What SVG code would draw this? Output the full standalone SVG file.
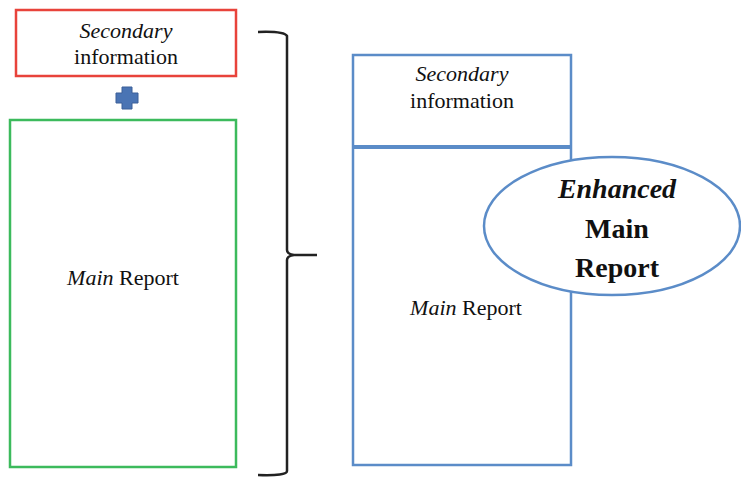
<svg xmlns="http://www.w3.org/2000/svg" width="741" height="477" viewBox="0 0 741 477">
  <style>
    .t { font-family: 'Liberation Serif', 'DejaVu Serif', serif; fill: #111; text-anchor: middle; }
    .s { font-size: 22px; }
    .b { font-size: 28px; font-weight: bold; }
    .i { font-style: italic; }
    .box { fill: #fff; stroke-width: 2.5; }
  </style>
  <rect width="741" height="477" fill="#fff"/>

  <!-- left: secondary information -->
  <g id="secondary-left">
    <rect class="box" x="16" y="10" width="220" height="66" stroke="#e8433b"/>
    <text class="t s i" x="126" y="38">Secondary</text>
    <text class="t s" x="126" y="64">information</text>
  </g>

  <!-- plus sign -->
  <g id="plus">
    <path d="M122 87 h10 v6 h6 v10 h-6 v6 h-10 v-6 h-6 v-10 h6 z" fill="#4a74b4" stroke="#3a5f98" stroke-width="1"/>
  </g>

  <!-- left: main report -->
  <g id="main-left">
    <rect class="box" x="10" y="120" width="226" height="347" stroke="#3cba5c"/>
    <text class="t s" x="123" y="285"><tspan class="i">Main</tspan> Report</text>
  </g>

  <!-- curly brace -->
  <g id="connectors">
    <path d="M258 32 Q284 31 287 36 V250 Q287 254 294 255 H317 M294 255 Q287 256 287 260 V471 Q287 476 258 475" fill="none" stroke="#222" stroke-width="2.5"/>
  </g>

  <!-- right: combined report -->
  <g id="combined">
    <rect class="box" x="353" y="55" width="218" height="410" stroke="#5b8cc8"/>
    <line x1="353" y1="147" x2="571" y2="147" stroke="#5b8cc8" stroke-width="4"/>
    <text class="t s i" x="462" y="81">Secondary</text>
    <text class="t s" x="462" y="108">information</text>
    <text class="t s" x="466" y="315"><tspan class="i">Main</tspan> Report</text>
  </g>

  <!-- enhanced main report ellipse -->
  <g id="enhanced">
    <ellipse cx="612" cy="226" rx="128" ry="69" fill="#fff" stroke="#5b8cc8" stroke-width="2.5"/>
    <text class="t b i" x="617" y="198">Enhanced</text>
    <text class="t b" x="617" y="238">Main</text>
    <text class="t b" x="617" y="277">Report</text>
  </g>
</svg>
